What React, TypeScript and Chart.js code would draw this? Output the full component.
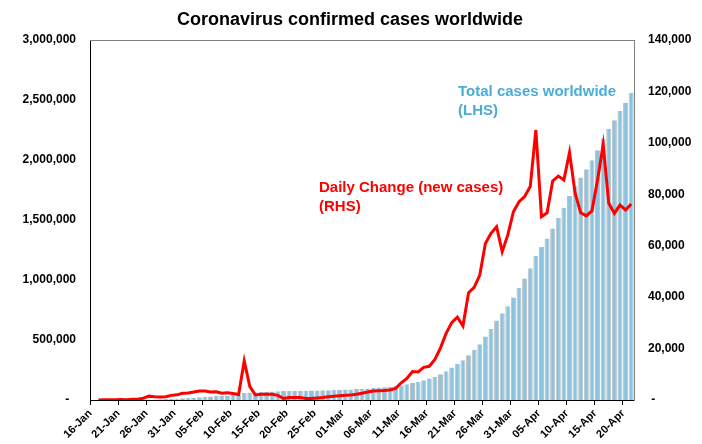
import { useEffect, useRef } from 'react';
import { Chart, registerables } from 'chart.js';

Chart.register(...registerables);

const FONT = "'Liberation Sans', Arial, Helvetica, sans-serif";

const chartTitle = 'Coronavirus confirmed cases worldwide';
const totalLabel = ['Total cases worldwide', '(LHS)'];
const dailyLabel = ['Daily Change (new cases)', '(RHS)'];

const categories = [
  '16-Jan', '17-Jan', '18-Jan', '19-Jan', '20-Jan', '21-Jan', '22-Jan', '23-Jan', '24-Jan', '25-Jan',
  '26-Jan', '27-Jan', '28-Jan', '29-Jan', '30-Jan', '31-Jan',
  '01-Feb', '02-Feb', '03-Feb', '04-Feb', '05-Feb', '06-Feb', '07-Feb', '08-Feb', '09-Feb', '10-Feb',
  '11-Feb', '12-Feb', '13-Feb', '14-Feb', '15-Feb', '16-Feb', '17-Feb', '18-Feb', '19-Feb', '20-Feb',
  '21-Feb', '22-Feb', '23-Feb', '24-Feb', '25-Feb', '26-Feb', '27-Feb', '28-Feb', '29-Feb',
  '01-Mar', '02-Mar', '03-Mar', '04-Mar', '05-Mar', '06-Mar', '07-Mar', '08-Mar', '09-Mar', '10-Mar',
  '11-Mar', '12-Mar', '13-Mar', '14-Mar', '15-Mar', '16-Mar', '17-Mar', '18-Mar', '19-Mar', '20-Mar',
  '21-Mar', '22-Mar', '23-Mar', '24-Mar', '25-Mar', '26-Mar', '27-Mar', '28-Mar', '29-Mar', '30-Mar', '31-Mar',
  '01-Apr', '02-Apr', '03-Apr', '04-Apr', '05-Apr', '06-Apr', '07-Apr', '08-Apr', '09-Apr', '10-Apr',
  '11-Apr', '12-Apr', '13-Apr', '14-Apr', '15-Apr', '16-Apr', '17-Apr', '18-Apr', '19-Apr', '20-Apr', '21-Apr',
];

// Total confirmed cases (left axis)
const totalCases = [
  300, 320, 380, 460, 550, 700, 830, 1080, 1380, 2080,
  3580, 4880, 6080, 7380, 9180, 11180,
  13780, 16480, 19580, 23080, 26580, 29680, 32880, 35480, 38280, 40780,
  42880, 58080, 63280, 65230, 67430, 69630, 71830, 73630, 74230, 75230,
  76230, 77230, 77830, 78430, 79230, 80230, 81530, 83030, 84730,
  86530, 88480, 90680, 93280, 96380, 99880, 103480, 107180, 111080, 115580,
  122280, 130680, 141780, 152680, 165380, 178480, 194280, 214580, 240480, 270580,
  302780, 331580, 373280, 417080, 465000, 530000, 594000, 663000, 722000, 782000, 855000,
  933000, 1012000, 1098000, 1199000, 1274000, 1345000, 1429000, 1518000, 1603000, 1700000,
  1781000, 1855000, 1922000, 1997000, 2082000, 2180000, 2260000, 2331000, 2408000, 2478000, 2558000,
];

// Daily change in new cases (right axis)
const dailyChange = [
  null, 20, 60, 80, 90, 150, 130, 250, 300, 700,
  1500, 1300, 1200, 1300, 1800, 2000,
  2600, 2700, 3100, 3500, 3500, 3100, 3200, 2600, 2800, 2500,
  2100, 15200, 5200, 1950, 2200, 2200, 2200, 1800, 600, 1000,
  1000, 1000, 600, 600, 800, 1000, 1300, 1500, 1700,
  1800, 1950, 2200, 2600, 3100, 3500, 3600, 3700, 3900, 4500,
  6700, 8400, 11100, 10900, 12700, 13100, 15800, 20300, 25900, 30100,
  32200, 28800, 41700, 43800, 48600, 60900, 64800, 67400, 57700, 64200, 73200,
  77100, 79100, 83000, 105000, 71300, 72800, 85200, 87100, 85600, 96300,
  80400, 72800, 71600, 73500, 85600, 99200, 76500, 72600, 75800, 73900, 76200,
];

const fmt = (v: number) => (v === 0 ? '-' : v.toLocaleString('en-US'));

export default function App() {
  const ref = useRef<HTMLCanvasElement>(null);

  useEffect(() => {
    document.body.style.margin = '0';
    if (!ref.current) return;

    const textPlugin = {
      id: 'texts',
      afterDraw(chart: any) {
        const c = chart.ctx;
        const a = chart.chartArea;
        c.save();
        c.strokeStyle = '#808080';
        c.lineWidth = 1;
        c.beginPath();
        c.moveTo(a.left, Math.round(a.top) + 0.5);
        c.lineTo(a.right, Math.round(a.top) + 0.5);
        c.stroke();

        c.fillStyle = '#000';
        c.font = `bold 18px ${FONT}`;
        c.textAlign = 'center';
        c.textBaseline = 'middle';
        c.fillText(chartTitle, 350, 20);

        c.textAlign = 'left';
        c.font = `bold 15px ${FONT}`;
        c.fillStyle = '#4BACD6';
        c.fillText(totalLabel[0], 458, 92);
        c.fillText(totalLabel[1], 458, 111);
        c.fillStyle = '#FF0000';
        c.fillText(dailyLabel[0], 319, 188);
        c.fillText(dailyLabel[1], 319, 207);
        c.restore();
      },
    };

    const chart = new Chart(ref.current, {
      type: 'bar',
      data: {
        labels: categories,
        datasets: [
          {
            type: 'line',
            label: 'Daily Change (new cases)',
            data: dailyChange,
            yAxisID: 'y1',
            borderColor: '#FF0000',
            borderWidth: 3,
            pointRadius: 0,
            tension: 0,
            order: 0,
          } as any,
          {
            type: 'bar',
            label: 'Total cases worldwide',
            data: totalCases,
            yAxisID: 'y',
            backgroundColor: '#8BC4E0',
            borderColor: '#C0C0C0',
            borderWidth: { left: 1, right: 1, top: 0, bottom: 0 },
            barPercentage: 0.9,
            categoryPercentage: 1.0,
            order: 1,
          },
        ],
      },
      plugins: [textPlugin],
      options: {
        responsive: false,
        animation: false,
        devicePixelRatio: 1,
        layout: { padding: { top: 40, left: 0, right: 0, bottom: 0 } },
        plugins: {
          legend: { display: false },
          title: { display: false },
          tooltip: { enabled: false },
        },
        scales: {
          x: {
            type: 'category',
            offset: true,
            grid: {
              offset: true,
              drawOnChartArea: false,
              drawTicks: true,
              tickLength: 5,
              color: (ctx: any) => (ctx.index % 5 === 0 ? '#000' : 'rgba(0,0,0,0)'),
            },
            border: { display: true, color: '#000', width: 1 },
            ticks: {
              autoSkip: false,
              minRotation: 45,
              maxRotation: 45,
              labelOffset: -2.5,
              padding: 2,
              color: '#000',
              font: { family: FONT, size: 11, weight: 'bold' },
              callback: (_v: any, i: number) => (i % 5 === 0 ? categories[i] : ''),
            },
            afterFit: (s: any) => {
              s.height = 44;
            },
          },
          y: {
            position: 'left',
            min: 0,
            max: 3000000,
            grid: { display: false, drawTicks: false },
            border: { display: true, color: '#000', width: 1 },
            ticks: {
              stepSize: 500000,
              padding: 14,
              color: '#000',
              font: { family: FONT, size: 12, weight: 'bold' },
              callback: (v: any) => (v === 0 ? '-  ' : fmt(v)),
            },
            afterFit: (s: any) => {
              s.width = 90;
            },
          },
          y1: {
            position: 'right',
            min: 0,
            max: 140000,
            grid: { display: false, drawTicks: false },
            border: { display: true, color: '#808080', width: 1 },
            ticks: {
              stepSize: 20000,
              padding: 14,
              color: '#000',
              font: { family: FONT, size: 12, weight: 'bold' },
              callback: (v: any) => (v === 0 ? ' -' : fmt(v)),
            },
            afterFit: (s: any) => {
              s.width = 68;
            },
          },
        },
      } as any,
    });

    return () => chart.destroy();
  }, []);

  return (
    <div style={{ width: 702, height: 444 }}>
      <canvas ref={ref} width={702} height={444} style={{ display: 'block' }} />
    </div>
  );
}
